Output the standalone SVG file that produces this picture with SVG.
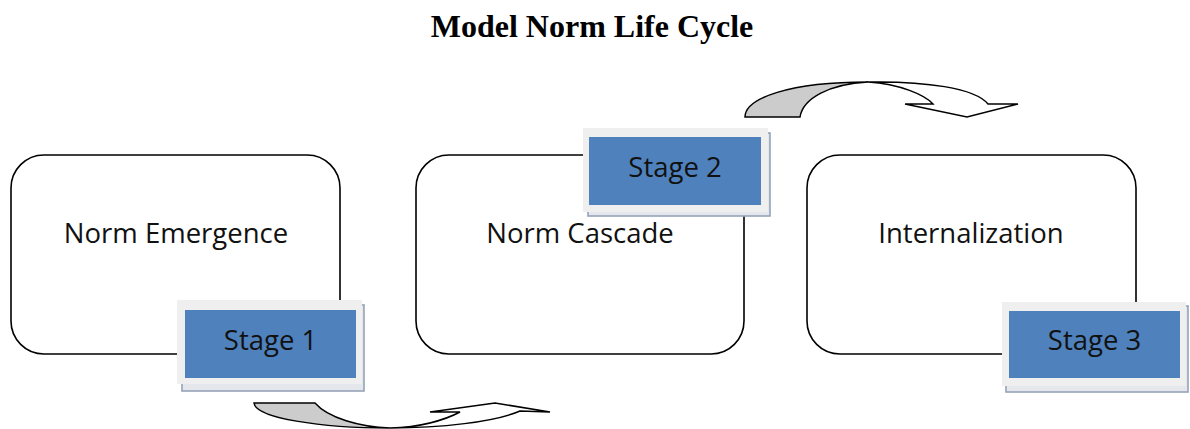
<svg xmlns="http://www.w3.org/2000/svg" width="1190" height="429" viewBox="0 0 1190 429">
  <style>
    .title { font-family: "Liberation Serif", "Times New Roman", serif; font-weight: bold; font-size: 32px; fill: #000; }
    .phase { fill: #fff; stroke: #000; stroke-width: 1.6; }
    .label { font-family: "Open Sans", "Noto Sans", sans-serif; font-size: 27.5px; fill: #111; text-anchor: middle; }
    .tagShadow { fill: #e4e7ec; stroke: #95a3b8; stroke-width: 1.6; }
    .tagFrame { fill: #efefef; }
    .tagFill { fill: #4f81bd; }
    .arrow { stroke: #000; stroke-width: 1.5; stroke-linejoin: miter; }
    .back { fill: #cccccc; }
    .front { fill: #fff; }
  </style>

  <rect width="1190" height="429" fill="#fff"/>

  <text class="title" x="592" y="37" text-anchor="middle">Model Norm Life Cycle</text>

  <!-- phase: norm emergence -->
  <g id="norm-emergence">
    <rect class="phase" x="11" y="155" width="329" height="199" rx="33" ry="33"/>
    <text class="label" x="176" y="243">Norm Emergence</text>
  </g>

  <!-- phase: norm cascade -->
  <g id="norm-cascade">
    <rect class="phase" x="416" y="155" width="328" height="199" rx="33" ry="33"/>
    <text class="label" x="580" y="243">Norm Cascade</text>
  </g>

  <!-- phase: internalization -->
  <g id="internalization">
    <rect class="phase" x="807" y="155" width="329" height="199" rx="33" ry="33"/>
    <text class="label" x="971" y="243">Internalization</text>
  </g>

  <!-- stage tags -->
  <g id="stage-1">
    <rect class="tagShadow" x="182" y="305" width="182" height="86"/>
    <rect class="tagFrame" x="177" y="300" width="185" height="84"/>
    <rect class="tagFill" x="185" y="310" width="171" height="68"/>
    <text class="label" x="270.5" y="350">Stage 1</text>
  </g>

  <g id="stage-2">
    <rect class="tagShadow" x="588" y="133" width="182" height="83"/>
    <rect class="tagFrame" x="583" y="128" width="185" height="84"/>
    <rect class="tagFill" x="589" y="137" width="172" height="68"/>
    <text class="label" x="675" y="177">Stage 2</text>
  </g>

  <g id="stage-3">
    <rect class="tagShadow" x="1006" y="306" width="182" height="86"/>
    <rect class="tagFrame" x="1002" y="302" width="184" height="84"/>
    <rect class="tagFill" x="1009" y="311" width="171" height="67"/>
    <text class="label" x="1094.5" y="350">Stage 3</text>
  </g>

  <!-- connectors: curved block arrows between stages -->
  <g id="connectors">
    <!-- stage 1 to stage 2: curved up arrow below -->
    <g id="arrow-1-2">
      <path class="arrow front" d="M390,428 C420,427 445,420 460,412 L430,412 L495,403 L550,412 L520,411 C495,422 440,428 390,428 Z"/>
      <path class="arrow back" d="M254,403 L315,403 C328,418 360,427 390,428 C320,428 256,418 254,403 Z"/>
    </g>
    <!-- stage 2 to stage 3: curved down arrow above -->
    <g id="arrow-2-3">
      <path class="arrow front" d="M868,82 C900,84 925,95 933,104 L905,104 L967,117 L1018,104 L988,104 C975,88 925,81 868,82 Z"/>
      <path class="arrow back" d="M745,117 L800,117 C803,98 830,84 868,82 C790,82 745,98 745,117 Z"/>
    </g>
  </g>
</svg>
